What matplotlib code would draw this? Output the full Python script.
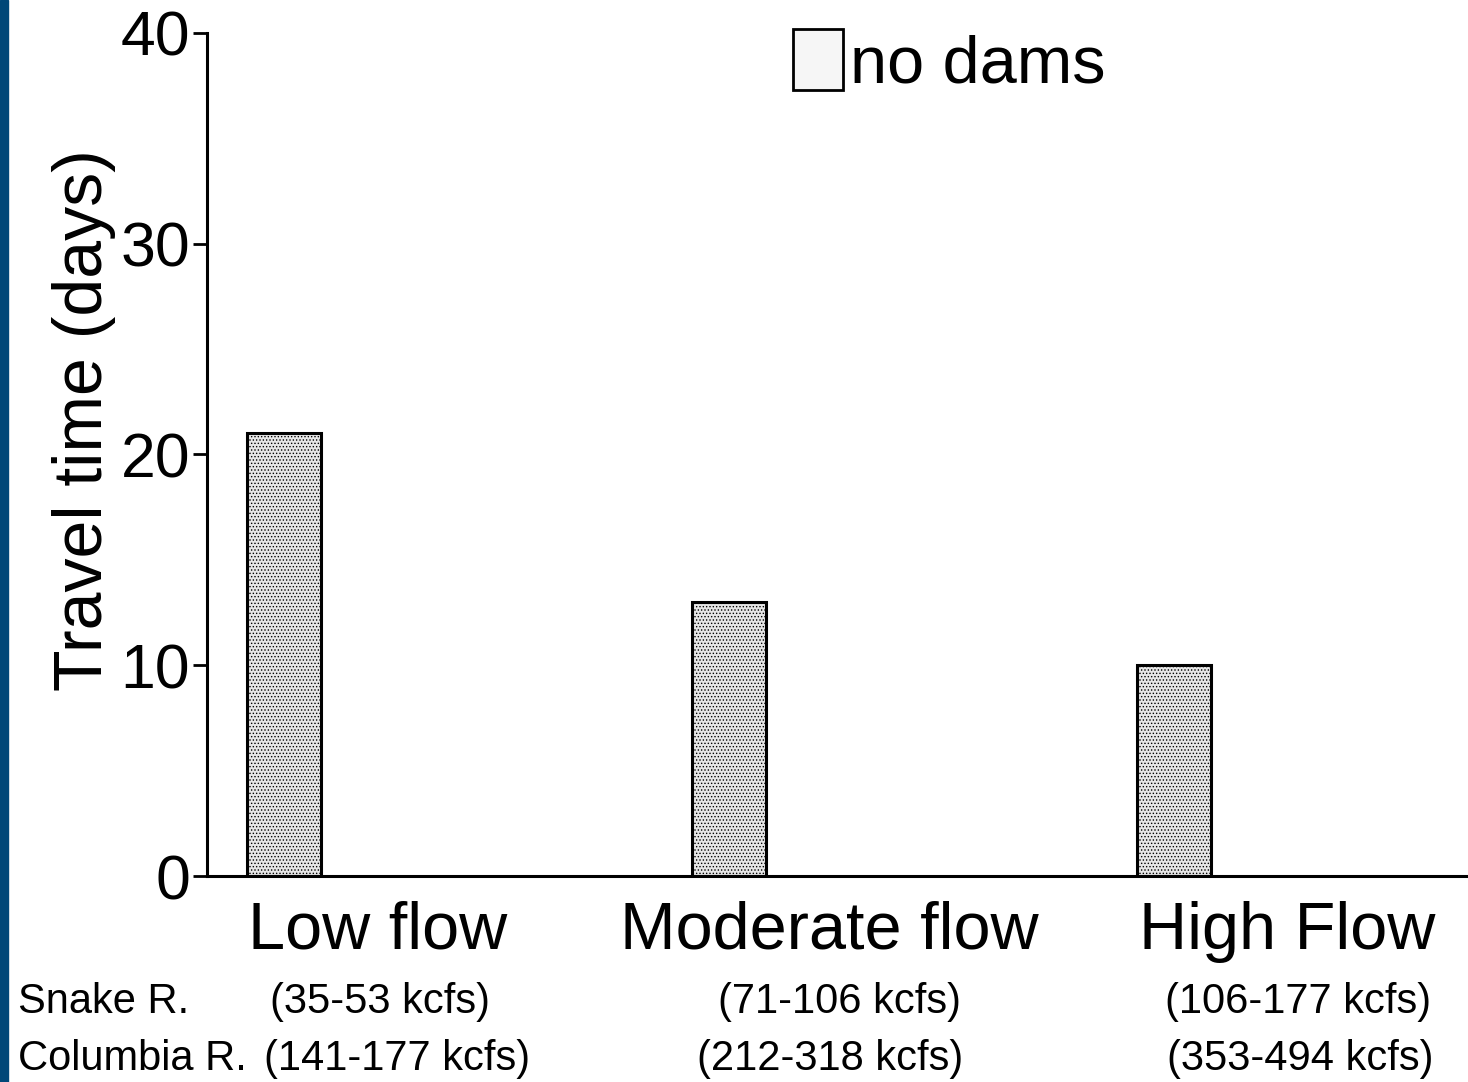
import matplotlib.pyplot as plt
from matplotlib.patches import Patch

plt.rcParams['font.family'] = ['Liberation Sans', 'DejaVu Sans']
plt.rcParams['hatch.color'] = '#b4b4b4'
plt.rcParams['hatch.linewidth'] = 0.6

categories = ['Low flow', 'Moderate flow', 'High Flow']
no_dams = [21, 13, 10]
snake_flows = ['(35-53 kcfs)', '(71-106 kcfs)', '(106-177 kcfs)']
columbia_flows = ['(141-177 kcfs)', '(212-318 kcfs)', '(353-494 kcfs)']
yticks = [0, 10, 20, 30, 40]

fig = plt.figure(figsize=(14.68, 10.82), dpi=100)
ax = fig.add_axes([207 / 1468, 1 - 876 / 1082, 1 - 207 / 1468, (876 - 33) / 1082])

x = list(range(len(categories)))
ax.bar(x, no_dams, width=0.166, color='#e6e6e6', edgecolor='black', linewidth=2.2,
       hatch='.....', zorder=2)

ax.set_xlim(-0.173, 2.661)
ax.set_ylim(0, 40)
ax.set_yticks(yticks)
ax.tick_params(axis='y', labelsize=45, length=10, width=2, pad=2)
ax.set_xticks([])
ax.spines['top'].set_visible(False)
ax.spines['right'].set_visible(False)
ax.spines['left'].set_linewidth(2.2)
ax.spines['bottom'].set_linewidth(2.2)

ax.set_ylabel('Travel time (days)', fontsize=49)
ax.yaxis.set_label_coords(-0.072, 0.541)

# category names under each group
label_offsets = [0.21, 0.225, 0.254]
for i, cat in enumerate(categories):
    ax.text(i + label_offsets[i], -0.066, cat, transform=ax.get_xaxis_transform(),
            ha='center', va='center', fontsize=48)

# flow ranges for the two rivers
fig.text(18 / 1468, 1 - 1002 / 1082, 'Snake R.', ha='left', va='center', fontsize=30)
fig.text(18 / 1468, 1 - 1059 / 1082, 'Columbia R.', ha='left', va='center', fontsize=30)
snake_x = [380, 840, 1298]
columbia_x = [397, 830, 1300]
for i in range(len(categories)):
    fig.text(snake_x[i] / 1468, 1 - 1002 / 1082, snake_flows[i], ha='center', va='center', fontsize=30)
    fig.text(columbia_x[i] / 1468, 1 - 1059 / 1082, columbia_flows[i], ha='center', va='center', fontsize=30)

handle = Patch(facecolor='#f6f6f6', edgecolor='black', linewidth=2)
ax.legend([handle], ['no dams'], loc='upper left', bbox_to_anchor=(793 / 1468, 1 - 29 / 1082),
          bbox_transform=fig.transFigure, frameon=False, fontsize=48,
          handlelength=0.75, handleheight=1.03, handletextpad=0.1, borderpad=0, borderaxespad=0)

# dark blue strip on the left edge
fig.patches.append(plt.Rectangle((0, 0), 8 / 1468, 1, transform=fig.transFigure,
                                 color='#004778', zorder=0))

fig.savefig('out.png', dpi=100)
